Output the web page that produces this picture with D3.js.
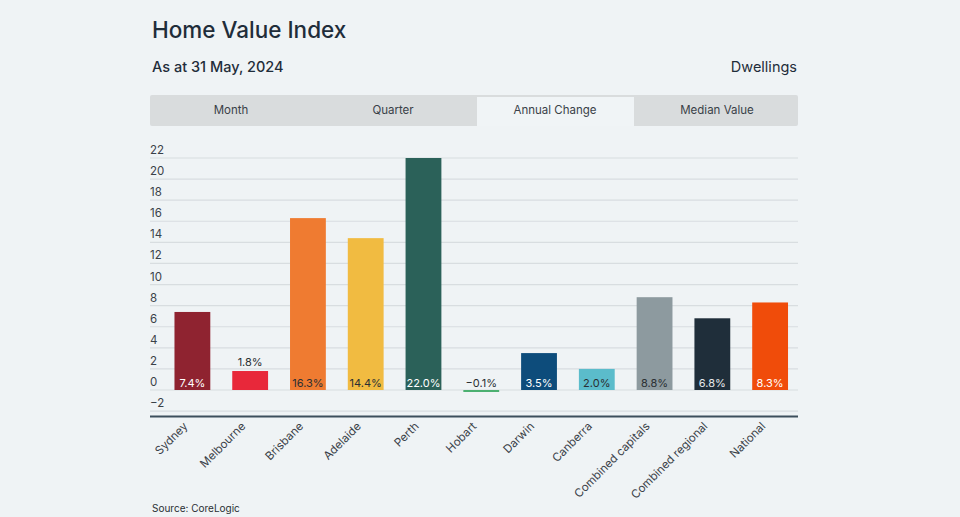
<!DOCTYPE html>
<html>
<head>
<meta charset="utf-8">
<script src="https://cdn.jsdelivr.net/npm/d3@7"></script>
<style>
  html, body { margin: 0; padding: 0; background: #eff3f5; }
  svg { display: block; font-family: "Inter", "Noto Sans", sans-serif; }
</style>
</head>
<body>
<svg id="chart" width="960" height="517"></svg>
<script>
const categories = ["Sydney", "Melbourne", "Brisbane", "Adelaide", "Perth", "Hobart", "Darwin", "Canberra", "Combined capitals", "Combined regional", "National"];
const values = [7.4, 1.8, 16.3, 14.4, 22.0, -0.1, 3.5, 2.0, 8.8, 6.8, 8.3];
const barColors = ["#8f2330", "#e8283a", "#ef7b31", "#f1bb41", "#2b6159", "#4cb071", "#0d4c7b", "#5bbccb", "#8d9a9f", "#1f2e3a", "#f04c0a"];
const labelColors = ["#ffffff", "#2a2f33", "#2a2f33", "#2a2f33", "#ffffff", "#2a2f33", "#ffffff", "#2a2f33", "#2a2f33", "#e6eaec", "#ffffff"];
const yTicks = [-2, 0, 2, 4, 6, 8, 10, 12, 14, 16, 18, 20, 22];
const tabs = ["Month", "Quarter", "Annual Change", "Median Value"];
const activeTab = "Annual Change";

const svg = d3.select("#chart");
const textDark = "#1f2d3a";

// Titles
svg.append("text").attr("x", 152).attr("y", 38).attr("font-size", 22.5).attr("font-weight", 500)
  .attr("fill", textDark).text("Home Value Index");
svg.append("text").attr("x", 152).attr("y", 72).attr("font-size", 14.5).attr("font-weight", 500)
  .attr("fill", textDark).text("As at 31 May, 2024");
svg.append("text").attr("x", 797).attr("y", 72).attr("font-size", 14.5).attr("text-anchor", "end")
  .attr("fill", textDark).text("Dwellings");

// Tabs
const tabX = d3.scaleBand().domain(tabs).range([150, 798]);
svg.append("rect").attr("x", 150).attr("y", 95).attr("width", 648).attr("height", 31).attr("fill", "#d9dcdd").attr("rx", 2);
const tg = svg.append("g").selectAll("g").data(tabs).join("g");
tg.filter(d => d === activeTab).append("rect")
  .attr("x", d => tabX(d) + 3).attr("y", 97).attr("width", tabX.bandwidth() - 5).attr("height", 29)
  .attr("fill", "#f0f4f6");
tg.append("text").attr("x", d => tabX(d) + tabX.bandwidth() / 2).attr("y", 114)
  .attr("text-anchor", "middle").attr("font-size", 11.5).attr("fill", "#3a4148").text(d => d);

// Scales
const y = d3.scaleLinear().domain([0, 22]).range([390, 158]);
const x = d3.scaleBand().domain(categories).range([163.5, 799]).paddingInner(0.38).paddingOuter(0.19);

// Grid
const grid = svg.append("g");
grid.selectAll("line").data(yTicks).join("line")
  .attr("x1", 150).attr("x2", 798).attr("y1", d => y(d)).attr("y2", d => y(d))
  .attr("stroke", "#d8dde0").attr("stroke-width", 1.2);
grid.selectAll("text").data(yTicks).join("text")
  .attr("x", 150).attr("y", d => y(d) - 4).attr("font-size", 11.5).attr("fill", "#3a4148")
  .text(d => d < 0 ? "\u2212" + Math.abs(d) : d);

// Bars
const bars = svg.append("g");
bars.selectAll("rect").data(categories).join("rect")
  .attr("x", d => x(d)).attr("width", x.bandwidth())
  .attr("y", (d, i) => values[i] >= 0 ? y(values[i]) : y(0))
  .attr("height", (d, i) => Math.max(Math.abs(y(values[i]) - y(0)), values[i] < 0 ? 2 : 0))
  .attr("fill", (d, i) => barColors[i]);

// Value labels
svg.append("g").selectAll("text").data(categories).join("text")
  .attr("x", d => x(d) + x.bandwidth() / 2)
  .attr("y", (d, i) => {
    const h = y(0) - y(values[i]);
    return h > 20 ? y(0) - 3.5 : (values[i] < 0 ? y(0) - 3.5 : y(values[i]) - 5);
  })
  .attr("text-anchor", "middle").attr("font-size", 11)
  .attr("fill", (d, i) => labelColors[i])
  .text((d, i) => (values[i] < 0 ? "\u2212" + Math.abs(values[i]).toFixed(1) : values[i].toFixed(1)) + "%");

// Bottom axis
svg.append("line").attr("x1", 150).attr("x2", 798).attr("y1", 416.5).attr("y2", 416.5)
  .attr("stroke", "#3d4f5c").attr("stroke-width", 2);

const xAxis = svg.append("g").attr("transform", "translate(0,417)")
  .call(d3.axisBottom(x).tickSize(0).tickPadding(0));
xAxis.select(".domain").remove();
xAxis.selectAll("text")
  .attr("font-family", "Inter, 'Noto Sans', sans-serif")
  .attr("font-size", 11.5).attr("fill", "#3a4148")
  .attr("text-anchor", "end")
  .attr("dy", "0")
  .attr("transform", "translate(-4,10) rotate(-45)");

// Source
svg.append("text").attr("x", 152).attr("y", 512).attr("font-size", 10).attr("fill", "#2a2f33").text("Source: CoreLogic");
</script>
</body>
</html>
